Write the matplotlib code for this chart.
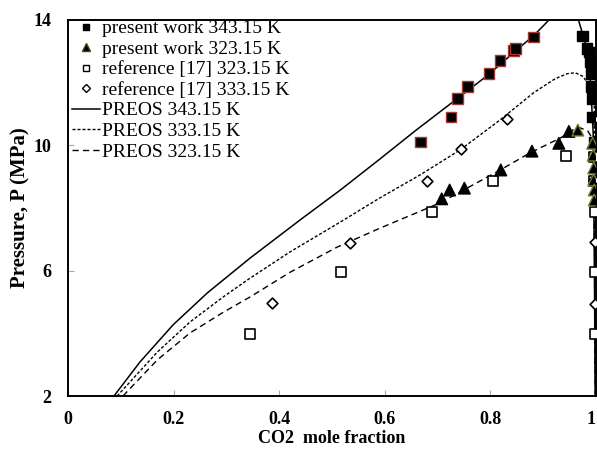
import numpy as np
import matplotlib.pyplot as plt
from matplotlib.lines import Line2D

plt.rcParams['font.family'] = ['Liberation Serif', 'DejaVu Serif']

# present work 343.15 K (filled squares)
pw343_x = [0.668, 0.725, 0.738, 0.757, 0.797, 0.818, 0.844, 0.848, 0.882,
           0.975, 0.983, 0.987, 0.989, 0.991, 0.992, 0.994, 0.994, 0.996]
pw343_y = [10.10, 10.89, 11.49, 11.87, 12.29, 12.70, 13.02, 13.08, 13.46,
           13.49, 13.08, 12.98, 12.67, 12.29, 11.87, 11.49, 10.89, 10.10]

# present work 323.15 K (filled triangles)
pw323_x = [0.708, 0.723, 0.751, 0.820, 0.879, 0.930, 0.949, 0.966,
           0.994, 0.995, 0.996, 0.996, 0.997, 0.997]
pw323_y = [8.29, 8.57, 8.63, 9.21, 9.81, 10.06, 10.44, 10.48,
           10.06, 9.68, 9.27, 8.89, 8.57, 8.25]

# reference [17] 323.15 K (open squares)
ref323_x = [0.345, 0.518, 0.690, 0.806, 0.943, 0.997, 0.997, 0.998, 0.998, 0.998]
ref323_y = [3.97, 5.94, 7.87, 8.86, 9.65, 9.62, 8.86, 7.87, 5.94, 3.97]

# reference [17] 333.15 K (open diamonds)
ref333_x = [0.387, 0.535, 0.681, 0.744, 0.831, 0.996, 0.997, 0.998, 0.998]
ref333_y = [4.98, 6.89, 8.86, 9.87, 10.83, 10.83, 8.89, 6.92, 4.95]

# PREOS curves
eos343_x = [0.087, 0.136, 0.199, 0.264, 0.345, 0.440, 0.516, 0.591, 0.658, 0.737,
            0.796, 0.844, 0.882, 0.910, 0.940, 0.967, 0.984, 0.990, 0.995, 0.997,
            0.999]
eos343_y = [2.00, 3.08, 4.27, 5.29, 6.40, 7.62, 8.57, 9.56, 10.46, 11.48,
            12.24, 12.95, 13.49, 13.97, 14.25, 14.00, 13.04, 11.99, 10.39, 6.66,
            2.00]

eos333_x = [0.093, 0.169, 0.231, 0.294, 0.345, 0.421, 0.516, 0.591, 0.667, 0.743,
            0.819, 0.882, 0.923, 0.946, 0.961, 0.976, 0.990, 0.997, 0.998, 0.999]
eos333_y = [2.00, 3.40, 4.36, 5.16, 5.76, 6.60, 7.55, 8.32, 9.05, 9.85,
            10.81, 11.67, 12.12, 12.28, 12.31, 12.19, 11.84, 11.30, 7.00, 2.00]

eos323_x = [0.104, 0.169, 0.231, 0.294, 0.345, 0.421, 0.510, 0.592, 0.705, 0.819,
            0.876, 0.933, 0.957, 0.971, 0.985, 0.995, 0.998, 0.999]
eos323_y = [2.00, 3.15, 4.01, 4.67, 5.16, 5.95, 6.75, 7.36, 8.16, 9.21,
            9.76, 10.23, 10.49, 10.55, 10.45, 10.17, 6.00, 2.00]

xticks = [0, 0.2, 0.4, 0.6, 0.8, 1]
xticklabels = ['0', '0.2', '0.4', '0.6', '0.8', '1']
yticks = [2, 6, 10, 14]

fig = plt.figure(figsize=(5.97, 4.49), dpi=100)
ax = fig.add_axes([0.114, 0.118, 0.884, 0.838])

ax.plot(eos343_x, eos343_y, '-', color='black', lw=1.1)
ax.plot(eos333_x, eos333_y, color='black', lw=1.0, dashes=(2.2, 1.4))
ax.plot(eos323_x, eos323_y, color='black', lw=1.0, dashes=(4.5, 3.0))

sq_edges = ['#a23a33' if v < 0.95 else 'black' for v in pw343_x]
tri_edges = ['#6b7f2a' if v > 0.95 else 'black' for v in pw323_x]

ax.scatter(pw343_x, pw343_y, marker='s', s=55, c='black', edgecolors=sq_edges,
           linewidths=1.0, zorder=4)
ax.scatter(pw323_x, pw323_y, marker='^', s=70, c='black', edgecolors=tri_edges,
           linewidths=1.0, zorder=4)
ax.scatter(ref323_x, ref323_y, marker='s', s=55, facecolors='white',
           edgecolors='black', linewidths=1.2, zorder=3)
ax.scatter(ref333_x, ref333_y, marker='D', s=30, facecolors='white',
           edgecolors='black', linewidths=1.2, zorder=3)

handles = [
    Line2D([], [], ls='none', marker='s', ms=5, color='black'),
    Line2D([], [], ls='none', marker='^', ms=6, color='black', mec='#3a4a10'),
    Line2D([], [], ls='none', marker='s', ms=5, mfc='white', mec='black', mew=1.0),
    Line2D([], [], ls='none', marker='D', ms=4, mfc='white', mec='black', mew=1.0),
    Line2D([], [], color='black', lw=1.1),
    Line2D([], [], color='black', lw=1.0, dashes=(2.2, 1.4)),
    Line2D([], [], color='black', lw=1.0, dashes=(4.5, 3.0)),
]
labels = ['present work 343.15 K', 'present work 323.15 K', 'reference [17] 323.15 K',
          'reference [17] 333.15 K', 'PREOS 343.15 K', 'PREOS 333.15 K', 'PREOS 323.15 K']
ax.legend(handles, labels, loc='upper left', bbox_to_anchor=(0.008, 1.0),
          frameon=False, fontsize=14, borderaxespad=0, borderpad=0.0,
          labelspacing=0.15, handlelength=1.4, handletextpad=0.12)

ax.set_xlim(0, 1)
ax.set_ylim(2, 14)
ax.set_xticks(xticks)
ax.set_xticklabels(xticklabels)
ax.set_yticks(yticks)
ax.tick_params(direction='in', length=4, width=0.8, color='#aaaaaa', labelsize=13)
ax.tick_params(axis='x', pad=11)
ax.tick_params(axis='y', pad=12)
for lab in ax.get_xticklabels() + ax.get_yticklabels():
    lab.set_fontweight('bold')
ax.get_xticklabels()[-1].set_horizontalalignment('right')
for sp in ax.spines.values():
    sp.set_linewidth(1.4)

ax.set_xlabel('CO2  mole fraction', fontsize=13, fontweight='bold', labelpad=1)
ax.set_ylabel('Pressure, P (MPa)', fontsize=15, fontweight='bold', labelpad=2)

fig.savefig('out.png', dpi=100)
